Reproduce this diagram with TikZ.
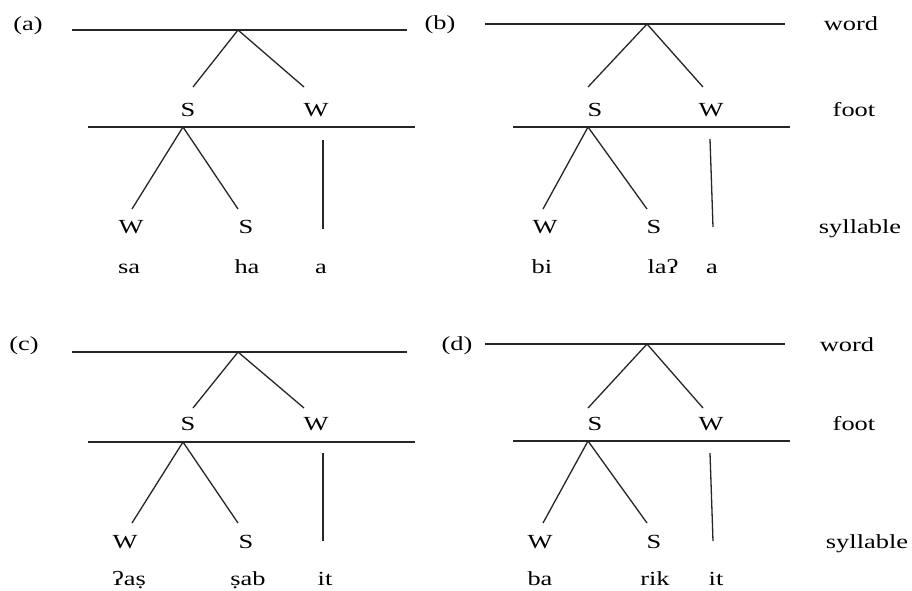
\documentclass[tikz,border=0pt]{standalone}
\usepackage{graphicx}
\usepackage{fontspec}
\setmainfont{Liberation Serif}
\newcommand{\wide}[1]{\scalebox{1.32}[1]{#1}}
\begin{document}
\begin{tikzpicture}[x=1pt,y=-1pt,
  lbl/.style={font=\fontsize{20}{24}\selectfont, inner sep=0pt, anchor=base},
  tier/.style={line width=1.2pt, draw=black!85},
  branch/.style={line width=1.3pt, draw=black!85}]
\useasboundingbox (0,0) rectangle (912,590);
\fill[white] (0,0) rectangle (912,590);

% ---------- (a) ----------
\node[lbl] (pa) at (28,30) {\wide{(a)}};
\coordinate (aW1) at (72,30); \coordinate (aW2) at (407,30);
\coordinate (aTop) at (238,30);
\coordinate (aF1) at (88,127); \coordinate (aF2) at (415,127);
\coordinate (aFoot) at (183,127);
\draw[tier] (aW1) -- (aW2);
\draw[tier] (aF1) -- (aF2);
\coordinate (aSe) at (193,87); \coordinate (aWe) at (304,87);
\draw[branch] (aSe) -- (aTop) -- (aWe);
\coordinate (aw) at (132,209); \coordinate (as) at (238,209);
\draw[branch] (aw) -- (aFoot) -- (as);
\coordinate (av1) at (323,140); \coordinate (av2) at (323,229);
\draw[branch] (av1) -- (av2);
\node[lbl] (aS) at (188,116) {\wide{S}};
\node[lbl] (aW) at (316,116) {\wide{W}};
\node[lbl] (asw) at (131,233) {\wide{W}};
\node[lbl] (ass) at (246,233) {\wide{S}};
\node[lbl] (at1) at (129,273) {\wide{sa}};
\node[lbl] (at2) at (247,273) {\wide{ha}};
\node[lbl] (at3) at (321,273) {\wide{a}};

% ---------- (b) ----------
\node[lbl] (pb) at (440,29) {\wide{(b)}};
\coordinate (bW1) at (485,24); \coordinate (bW2) at (785,24);
\coordinate (bTop) at (647,24);
\coordinate (bF1) at (513,127); \coordinate (bF2) at (790,127);
\coordinate (bFoot) at (588,127);
\draw[tier] (bW1) -- (bW2);
\draw[tier] (bF1) -- (bF2);
\coordinate (bSe) at (588,87); \coordinate (bWe) at (703,87);
\draw[branch] (bSe) -- (bTop) -- (bWe);
\coordinate (bw) at (543,209); \coordinate (bs) at (647,209);
\draw[branch] (bw) -- (bFoot) -- (bs);
\coordinate (bv1) at (710,139); \coordinate (bv2) at (713,227);
\draw[branch] (bv1) -- (bv2);
\node[lbl] (bS) at (595,116) {\wide{S}};
\node[lbl] (bW) at (711,116) {\wide{W}};
\node[lbl] (bsw) at (545,233) {\wide{W}};
\node[lbl] (bss) at (654,233) {\wide{S}};
\node[lbl] (bt1) at (542,273) {\wide{bi}};
\node[lbl] (bt2) at (663,273) {\wide{laʔ}};
\node[lbl] (bt3) at (712,273) {\wide{a}};
\node[lbl] (bword) at (851,30) {\wide{word}};
\node[lbl] (bfoot) at (854,116) {\wide{foot}};
\node[lbl] (bsyl) at (860,233) {\wide{syllable}};

% ---------- (c) ----------
\node[lbl] (pc) at (24,350) {\wide{(c)}};
\coordinate (cW1) at (72,352); \coordinate (cW2) at (407,352);
\coordinate (cTop) at (238,352);
\coordinate (cF1) at (88,442); \coordinate (cF2) at (415,442);
\coordinate (cFoot) at (183,442);
\draw[tier] (cW1) -- (cW2);
\draw[tier] (cF1) -- (cF2);
\coordinate (cSe) at (193,408); \coordinate (cWe) at (304,408);
\draw[branch] (cSe) -- (cTop) -- (cWe);
\coordinate (cw) at (132,523); \coordinate (cs) at (238,523);
\draw[branch] (cw) -- (cFoot) -- (cs);
\coordinate (cv1) at (323,453); \coordinate (cv2) at (323,541);
\draw[branch] (cv1) -- (cv2);
\node[lbl] (cS) at (188,430) {\wide{S}};
\node[lbl] (cW) at (316,430) {\wide{W}};
\node[lbl] (csw) at (125,548) {\wide{W}};
\node[lbl] (css) at (246,548) {\wide{S}};
\node[lbl] (ct1) at (129,585) {\wide{ʔaṣ}};
\node[lbl] (ct2) at (248,585) {\wide{ṣab}};
\node[lbl] (ct3) at (325,585) {\wide{it}};

% ---------- (d) ----------
\node[lbl] (pd) at (457,350) {\wide{(d)}};
\coordinate (dW1) at (485,344); \coordinate (dW2) at (785,344);
\coordinate (dTop) at (647,344);
\coordinate (dF1) at (513,441); \coordinate (dF2) at (790,441);
\coordinate (dFoot) at (588,441);
\draw[tier] (dW1) -- (dW2);
\draw[tier] (dF1) -- (dF2);
\coordinate (dSe) at (588,408); \coordinate (dWe) at (703,408);
\draw[branch] (dSe) -- (dTop) -- (dWe);
\coordinate (dw) at (543,523); \coordinate (ds) at (647,523);
\draw[branch] (dw) -- (dFoot) -- (ds);
\coordinate (dv1) at (710,453); \coordinate (dv2) at (713,541);
\draw[branch] (dv1) -- (dv2);
\node[lbl] (dS) at (595,430) {\wide{S}};
\node[lbl] (dW) at (711,430) {\wide{W}};
\node[lbl] (dsw) at (540,548) {\wide{W}};
\node[lbl] (dss) at (654,548) {\wide{S}};
\node[lbl] (dt1) at (540,585) {\wide{ba}};
\node[lbl] (dt2) at (655,585) {\wide{rik}};
\node[lbl] (dt3) at (716,585) {\wide{it}};
\node[lbl] (dword) at (847,351) {\wide{word}};
\node[lbl] (dfoot) at (854,430) {\wide{foot}};
\node[lbl] (dsyl) at (867,548) {\wide{syllable}};
\end{tikzpicture}
\end{document}
